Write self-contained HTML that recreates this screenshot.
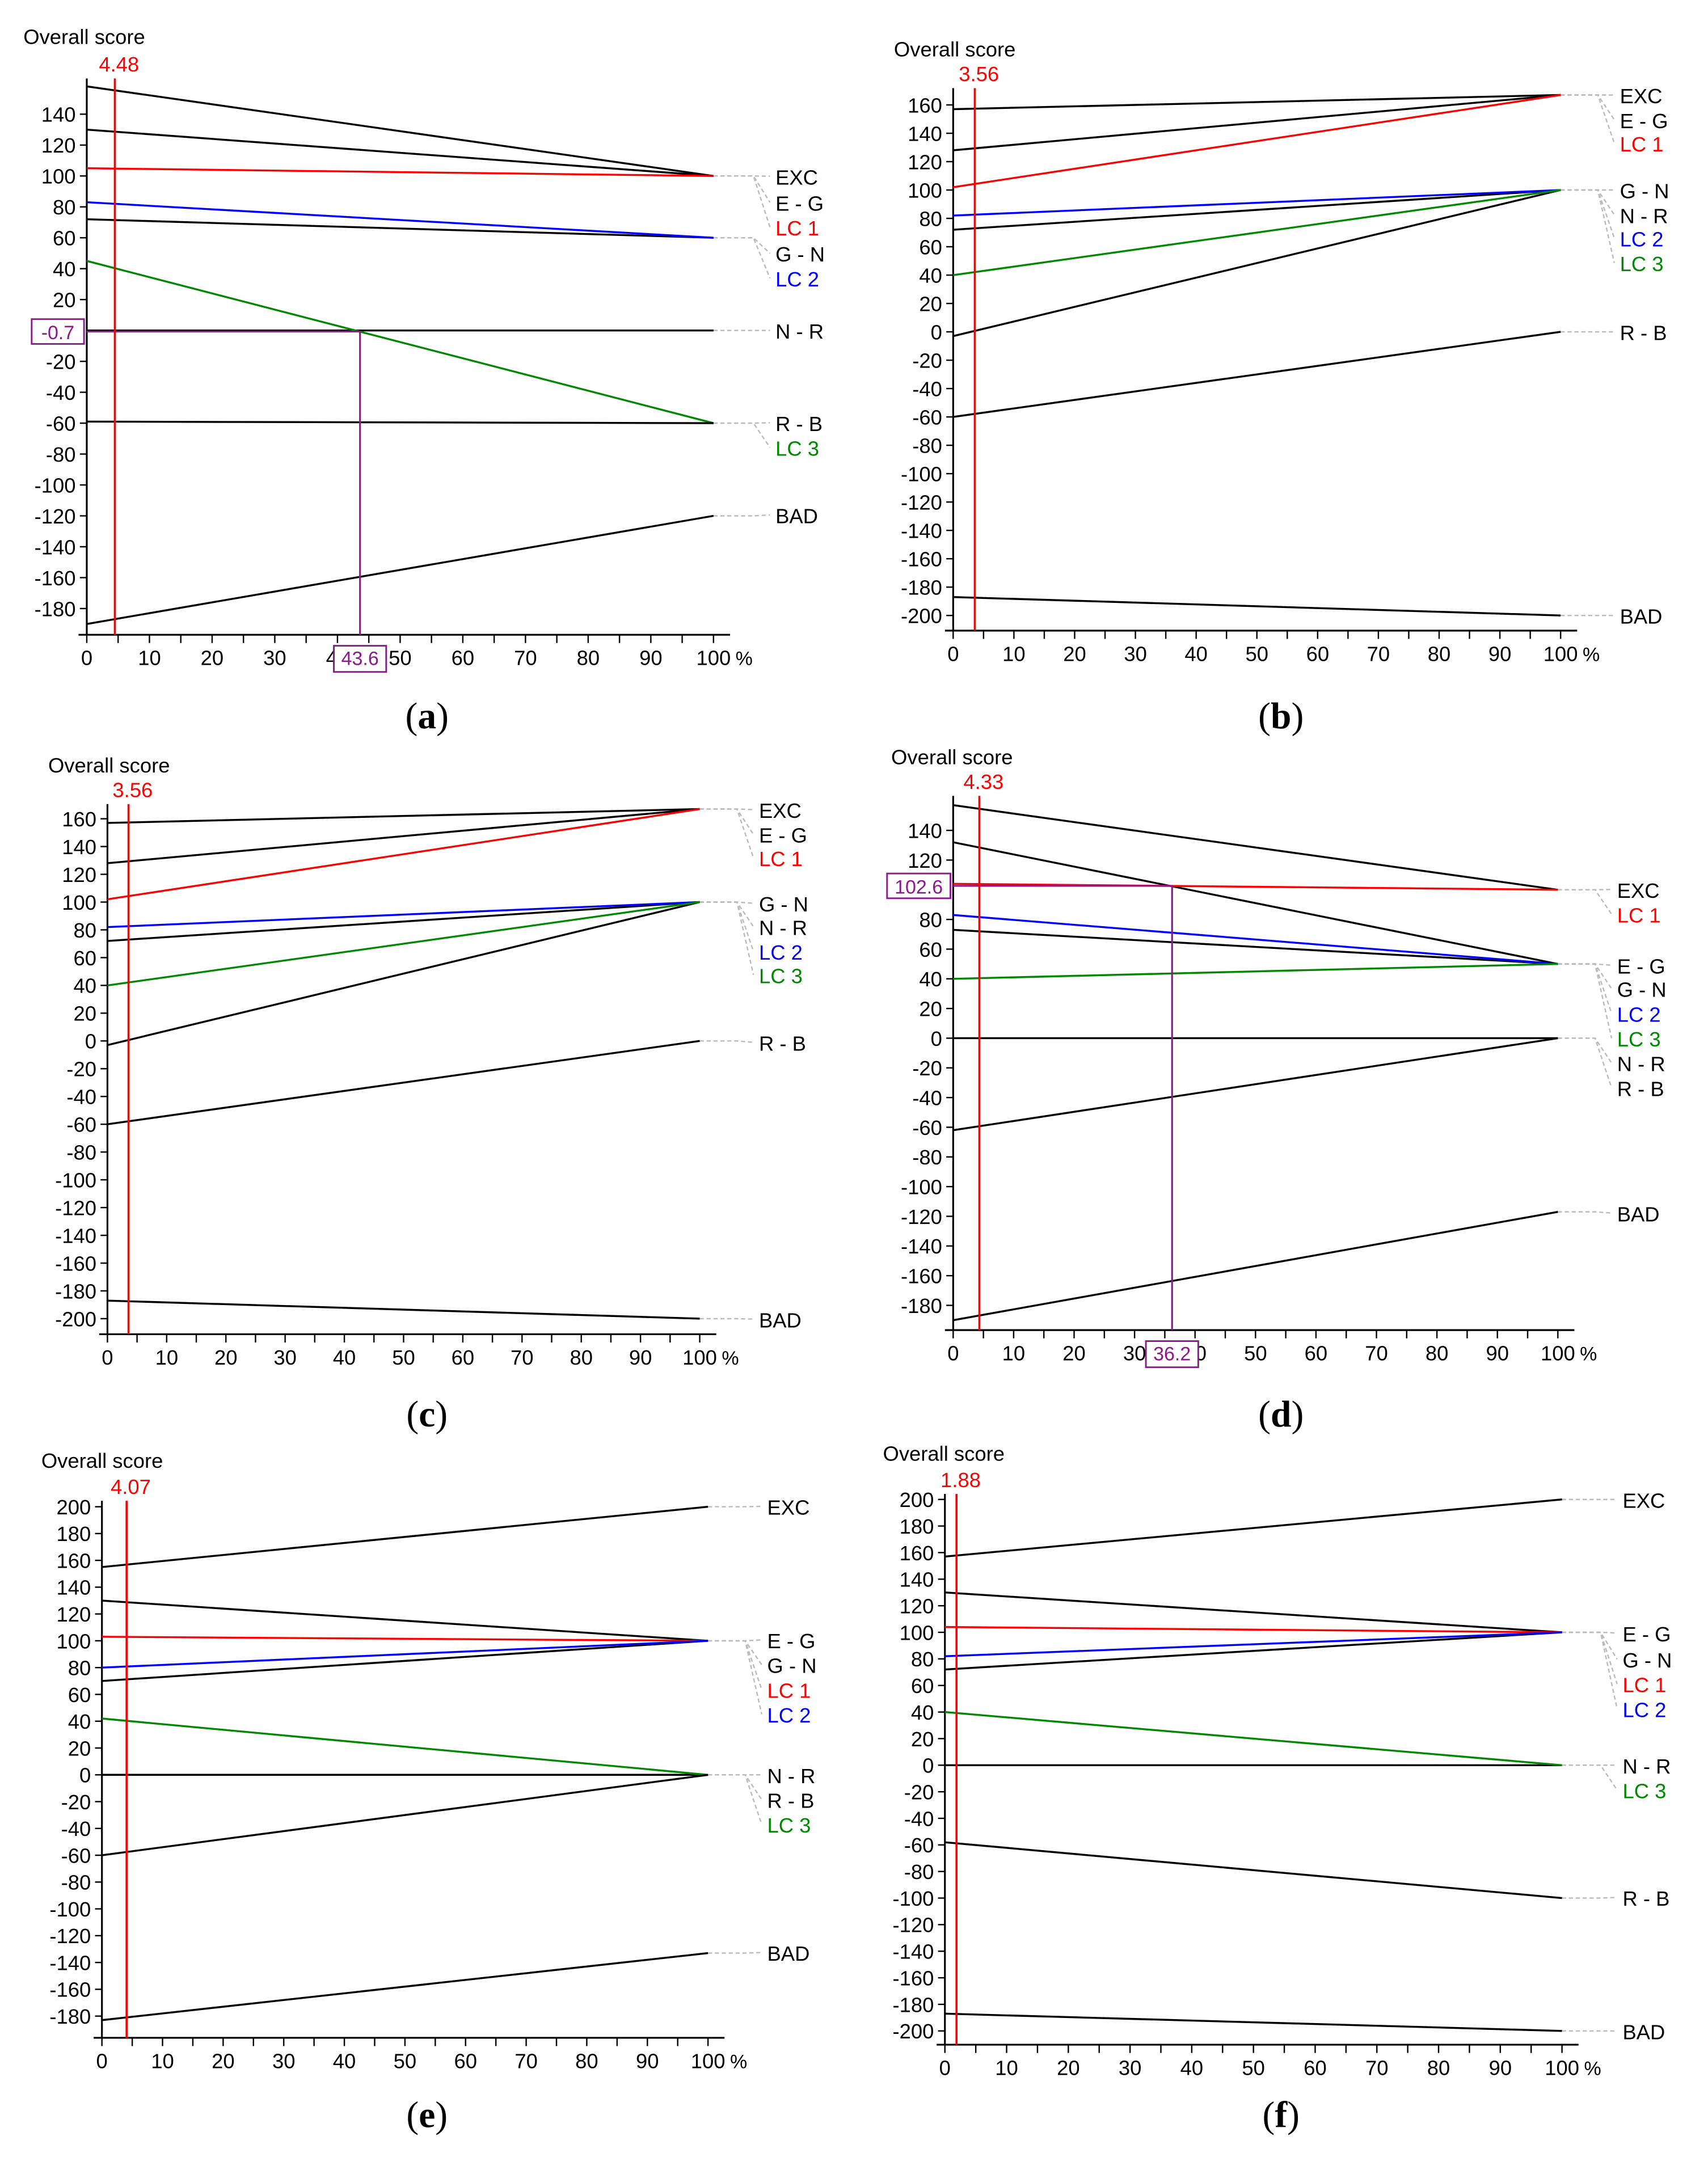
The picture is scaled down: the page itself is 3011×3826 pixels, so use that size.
<!DOCTYPE html>
<html><head><meta charset="utf-8">
<style>
html,body{margin:0;padding:0;background:#fff}
svg{display:block}
text{font-family:"Liberation Sans",sans-serif}
.cap{font-family:"Liberation Serif",serif;font-size:27px}
</style></head>
<body>
<svg id="fig" xmlns="http://www.w3.org/2000/svg" width="3011" height="3826" viewBox="0 0 1240 1576" preserveAspectRatio="none"></svg>
<script>
// ---- data ----
const seriesNames = ["EXC","E - G","LC 1","G - N","LC 2","N - R","LC 3","R - B","BAD"];
const seriesColors = ["#000","#000","#f00","#000","#00f","#000","#080","#000","#000"];
const aStart = [158,130,105,72,83,0,45,-59,-190];
const aEnd   = [100,100,100,60,60,0,-60,-60,-120];
const bStart = [157,128,102,72,82,-3,40,-60,-187];
const bEnd   = [167,167,167,100,100,100,100,0,-200];
const cStart = [157,128,102,72,82,-3,40,-60,-187];
const cEnd   = [167,167,167,100,100,100,100,0,-200];
const dStart = [157,132,104,73,83,0,40,-62,-190];
const dEnd   = [100,50,100,50,50,0,50,0,-117];
const eStart = [155,130,103,70,80,0,42,-60,-183];
const eEnd   = [200,100,100,100,100,0,0,0,-133];
const fStart = [157,130,104,72,82,0,40,-58,-187];
const fEnd   = [200,100,100,100,100,0,0,-100,-200];
const redMarks = [4.48,3.56,3.56,4.33,4.07,1.88];
const redLabels = ["4.48","3.56","3.56","4.33","4.07","1.88"];
const aTicks = [140,120,100,80,60,40,20,-20,-40,-60,-80,-100,-120,-140,-160,-180];
const bTicks = [160,140,120,100,80,60,40,20,0,-20,-40,-60,-80,-100,-120,-140,-160,-180,-200];
const dTicks = [140,120,80,60,40,20,0,-20,-40,-60,-80,-100,-120,-140,-160,-180];
const eTicks = [200,180,160,140,120,100,80,60,40,20,0,-20,-40,-60,-80,-100,-120,-140,-160,-180];
const fTicks = [200,180,160,140,120,100,80,60,40,20,0,-20,-40,-60,-80,-100,-120,-140,-160,-180,-200];
const xTicks = [0,10,20,30,40,50,60,70,80,90,100];
const aCross = [43.6,-0.7];
const dCross = [36.2,102.6];

// ---- layout (pixels in 1240x1576 space) ----
const panels = [
 {id:"a",start:aStart,end:aEnd,ticks:aTicks,cross:aCross,crossFmt:["43.6","-0.7"],x0:63,x100:518,yRef:240,per20:22.44,yTop:57,yAxis:461,title:[17,27],cap:[310,520],
  lx:563,ly:{"EXC":128,"E - G":147,"LC 1":165,"G - N":184,"LC 2":202,"N - R":240,"R - B":307,"LC 3":325,"BAD":374}},
 {id:"b",start:bStart,end:bEnd,ticks:bTicks,x0:692,x100:1133,yRef:241,per20:20.6,yTop:64,yAxis:458,title:[649,36],cap:[930,520],
  lx:1176,ly:{"EXC":69,"E - G":87,"LC 1":104,"G - N":138,"N - R":156,"LC 2":173,"LC 3":191,"R - B":241,"BAD":447}},
 {id:"c",start:cStart,end:cEnd,ticks:bTicks,x0:78,x100:508,yRef:756,per20:20.17,yTop:584,yAxis:969,title:[35,556],cap:[310,1027],
  lx:551,ly:{"EXC":588,"E - G":606,"LC 1":623,"G - N":656,"N - R":673,"LC 2":691,"LC 3":708,"R - B":757,"BAD":958}},
 {id:"d",start:dStart,end:dEnd,ticks:dTicks,cross:dCross,crossFmt:["36.2","102.6"],x0:692,x100:1131,yRef:754,per20:21.56,yTop:578,yAxis:966,title:[647,550],cap:[930,1027],
  lx:1174,ly:{"EXC":646,"LC 1":664,"E - G":701,"G - N":718,"LC 2":736,"LC 3":754,"N - R":772,"R - B":790,"BAD":881}},
 {id:"e",start:eStart,end:eEnd,ticks:eTicks,x0:74,x100:514,yRef:1289,per20:19.47,yTop:1090,yAxis:1480,title:[30,1061],cap:[310,1536],
  lx:557,ly:{"EXC":1094,"E - G":1191,"G - N":1209,"LC 1":1227,"LC 2":1245,"N - R":1289,"R - B":1307,"LC 3":1325,"BAD":1418}},
 {id:"f",start:fStart,end:fEnd,ticks:fTicks,x0:686,x100:1134,yRef:1282,per20:19.3,yTop:1085,yAxis:1485,title:[641,1056],cap:[930,1536],
  lx:1178,ly:{"EXC":1089,"E - G":1186,"G - N":1205,"LC 1":1223,"LC 2":1241,"N - R":1282,"LC 3":1300,"R - B":1378,"BAD":1475}}
];

const NS="http://www.w3.org/2000/svg";
const svg=document.getElementById("fig");
function mk(tag,attrs,parent,txt){const e=document.createElementNS(NS,tag);for(const k in attrs)e.setAttribute(k,attrs[k]);if(txt!==undefined)e.textContent=txt;parent.appendChild(e);return e;}

panels.forEach((p,pi)=>{
  const g=mk("g",{},svg);
  
  
  const X=v=>p.x0+(p.x100-p.x0)*v/100;
  const Y=v=>p.yRef-v/20*p.per20;
  const t=mk("text",{x:p.title[0],y:p.title[1]+5,"font-size":15,fill:"#000"},g,"Overall score");
  
  
  const ya=mk("line",{x1:p.x0,y1:p.yTop,x2:p.x0,y2:p.yAxis,stroke:"#000","stroke-width":1.3},g);
  
  
  const xa=mk("line",{x1:p.x0-6,y1:p.yAxis,x2:p.x100+12,y2:p.yAxis,stroke:"#000","stroke-width":1.3},g);
  
  
  p.ticks.forEach(v=>{
    mk("line",{x1:p.x0-5,y1:Y(v),x2:p.x0,y2:Y(v),stroke:"#000","stroke-width":1},g);
    const tl=mk("text",{x:p.x0-8,y:Y(v)+5.5,"font-size":15,"text-anchor":"end",fill:"#000"},g,String(v));
    
    
  });
  for(let v=0;v<=100;v+=5){mk("line",{x1:X(v),y1:p.yAxis,x2:X(v),y2:p.yAxis+6,stroke:"#000","stroke-width":1},g);}
  xTicks.forEach(v=>{
    const tl=mk("text",{x:X(v),y:p.yAxis+22,"font-size":15,"text-anchor":"middle",fill:"#000"},g,String(v));
    
    
  });
  const pc=mk("text",{x:X(100)+16,y:p.yAxis+22,"font-size":14,fill:"#000"},g,"%");
  
  
  seriesNames.forEach((n,i)=>{
    const ly=p.ly[n];
    mk("line",{x1:X(100),y1:Y(p.end[i]),x2:X(100)+20,y2:Y(p.end[i]),stroke:"#bbb","stroke-width":1,"stroke-dasharray":"3,2"},g);
    mk("polyline",{points:`${X(100)+20},${Y(p.end[i])} ${p.lx-16},${Y(p.end[i])} ${p.lx-4},${ly}`,fill:"none",stroke:"#bbb","stroke-width":1,"stroke-dasharray":"3,2"},g);
    const lb=mk("text",{x:p.lx,y:ly+6,"font-size":15,fill:seriesColors[i]},g,n);
    
    
  });
  seriesNames.forEach((n,i)=>{
    const l=mk("line",{x1:X(0),y1:Y(p.start[i]),x2:X(100),y2:Y(p.end[i]),stroke:seriesColors[i],"stroke-width":1.4},g);
    
    
  });
  if(p.cross){
    const cx=X(p.cross[0]),cy=Y(p.cross[1]);
    mk("polyline",{points:`${p.x0},${cy} ${cx},${cy} ${cx},${p.yAxis}`,fill:"none",stroke:"#8b1a8b","stroke-width":1.3},g);
    const w1=p.crossFmt[1].length*8+6;
    mk("rect",{x:p.x0-w1-2,y:cy-9,width:w1,height:18,fill:"#fff",stroke:"#8b1a8b","stroke-width":1.2},g);
    const c1=mk("text",{x:p.x0-w1/2-2,y:cy+5.5,"font-size":14,"text-anchor":"middle",fill:"#8b1a8b"},g,p.crossFmt[1]);
    
    
    mk("rect",{x:cx-19,y:p.yAxis+8,width:38,height:19,fill:"#fff",stroke:"#8b1a8b","stroke-width":1.2},g);
    const c2=mk("text",{x:cx,y:p.yAxis+22,"font-size":14,"text-anchor":"middle",fill:"#8b1a8b"},g,p.crossFmt[0]);
    
    
  }
  const rx=X(redMarks[pi]);
  const rl=mk("line",{x1:rx,y1:p.yTop,x2:rx,y2:p.yAxis,stroke:"#f00","stroke-width":1.5},g);
  
  
  const rt=mk("text",{x:rx+3,y:p.yTop-5,"font-size":15,"text-anchor":"middle",fill:"#f00"},g,redLabels[pi]);
  
  
  const cap=mk("text",{x:p.cap[0],y:p.cap[1]+9,"text-anchor":"middle",class:"cap",fill:"#000"},g);
  
  
  mk("tspan",{},cap,"(");
  mk("tspan",{"font-weight":"bold"},cap,p.id);
  mk("tspan",{},cap,")");
});
</script>
</body></html>
